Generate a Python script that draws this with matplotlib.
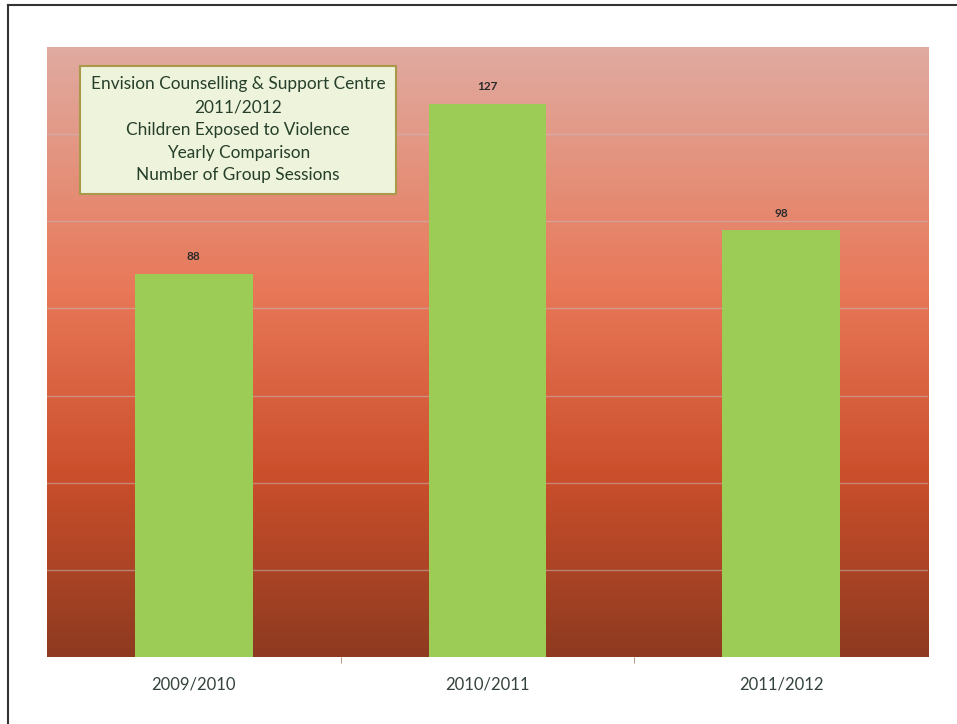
import numpy as np
import matplotlib
matplotlib.use("Agg")
import matplotlib.pyplot as plt
from matplotlib.colors import LinearSegmentedColormap
from matplotlib.lines import Line2D

years = ["2009/2010", "2010/2011", "2011/2012"]
sessions = [88, 127, 98]
title_lines = [
    "Envision Counselling & Support Centre",
    "2011/2012",
    "Children Exposed to Violence",
    "Yearly Comparison",
    "Number of Group Sessions",
]

plt.rcParams["font.family"] = ["Lato", "DejaVu Sans"]

fig = plt.figure(figsize=(9.57, 7.24), dpi=100)
ax = fig.add_axes([0.0491, 0.0925, 0.9206, 0.8426])

# background gradient, top pink -> orange-red -> dark brown red
grad = LinearSegmentedColormap.from_list(
    "bg", [(0.0, "#8e3a20"), (0.3, "#cc4f2c"), (0.6, "#e87858"), (1.0, "#e0aba1")]
)
x = np.arange(len(years))
ax.set_xlim(-0.5, len(years) - 0.5)
ax.set_ylim(0, 140)
ax.imshow(np.linspace(0, 1, 256).reshape(-1, 1), cmap=grad, aspect="auto",
          extent=[-0.5, len(years) - 0.5, 0, 140], origin="lower", zorder=0)

for yv in range(20, 140, 20):
    ax.axhline(yv, color="#c8c0c0", lw=1.0, alpha=0.5, zorder=1)

ax.bar(x, sessions, width=0.4, color="#9ccc55", zorder=2)
for xi, v in zip(x, sessions):
    ax.text(xi, v + 2.6, str(v), ha="center", va="bottom", fontsize=8.5,
            fontweight="bold", color="#2a2a2a", zorder=3)

ax.set_xticks(x)
ax.set_xticklabels(years, fontsize=12, color="#34443a")
ax.set_yticks([])
ax.tick_params(axis="x", length=0, pad=14)
ax.set_xticks([0.5, 1.5], minor=True)
ax.tick_params(axis="x", which="minor", length=4, color="#b08070")
for s in ax.spines.values():
    s.set_visible(False)

ax.text(0.217, 0.864, "\n".join(title_lines), transform=ax.transAxes,
        ha="center", va="center", fontsize=12.4, color="#263f2a",
        linespacing=1.52, zorder=4,
        bbox=dict(boxstyle="square,pad=0.62", facecolor="#eef3dc",
                  edgecolor="#a89a4a", linewidth=1.5))

# scanned page frame
fig.add_artist(Line2D([8 / 957, 8 / 957], [0, 1 - 5 / 724],
                      transform=fig.transFigure, color="#333333", lw=1.5))
fig.add_artist(Line2D([8 / 957, 1], [1 - 5 / 724, 1 - 5 / 724],
                      transform=fig.transFigure, color="#333333", lw=1.5))

fig.savefig("out.png", dpi=100)
